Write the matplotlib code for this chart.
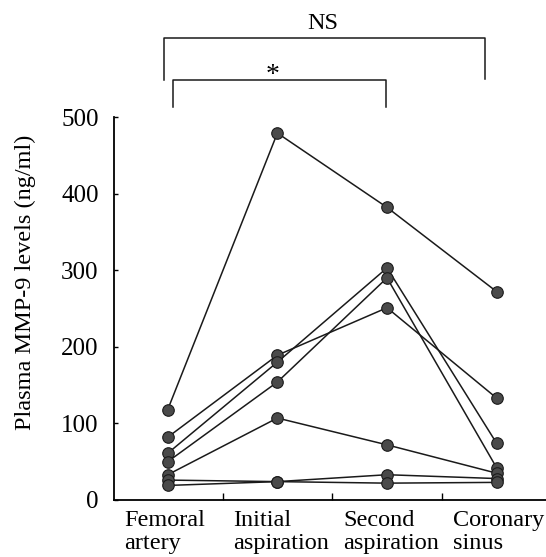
import matplotlib
matplotlib.use("Agg")
import matplotlib.pyplot as plt
import matplotlib.transforms as mtransforms

plt.rcParams['font.family'] = ['Liberation Serif', 'DejaVu Serif']

categories = ["Femoral\nartery", "Initial\naspiration", "Second\naspiration", "Coronary\nsinus"]
patient_1 = [118, 479, 382, 272]
patient_2 = [82, 189, 251, 133]
patient_3 = [61, 180, 303, 74]
patient_4 = [50, 154, 290, 42]
patient_5 = [33, 107, 72, 35]
patient_6 = [26, 24, 33, 28]
patient_7 = [19, 24, 22, 23]
patients = [patient_1, patient_2, patient_3, patient_4, patient_5, patient_6, patient_7]
y_ticks = [0, 100, 200, 300, 400, 500]

W, H = 546, 557
fig = plt.figure(figsize=(W / 100, H / 100), dpi=100)
ax = fig.add_axes([114 / W, 57 / H, (W - 114) / W, 383 / H])

x = list(range(len(categories)))
for vals in patients:
    ax.plot(x, vals, '-', color='#1a1a1a', lw=1.1, zorder=2)
    ax.plot(x, vals, 'o', ms=8.3, mfc='#4a4a4a', mec='#1a1a1a', mew=0.8, zorder=3)

ax.set_xlim(-0.49, 3.45)
ax.set_ylim(0, 500)
for s in ['top', 'right']:
    ax.spines[s].set_visible(False)
for s in ['left', 'bottom']:
    ax.spines[s].set_linewidth(1.3)

ax.set_yticks(y_ticks)
ax.set_yticklabels([str(v) for v in y_ticks], fontsize=18)
ax.tick_params(axis='y', direction='in', length=3, width=1, pad=11)
ax.set_xticks([0.5, 1.5, 2.5])
ax.set_xticklabels([])
ax.tick_params(axis='x', direction='in', length=5, width=1)

trans = mtransforms.blended_transform_factory(ax.transData, ax.transAxes)
offset = mtransforms.ScaledTranslation(0, -7 / 72, fig.dpi_scale_trans)
for i, lab in enumerate(categories):
    ax.text(i - 0.40, 0, lab, transform=trans + offset, ha='left', va='top',
            fontsize=17.5, linespacing=1.12)

fig.text(25 / W, 1 - 282 / H, "Plasma MMP-9 levels (ng/ml)", rotation=90,
         ha='center', va='center', fontsize=17.5)

# significance brackets
ax.plot([-0.03, -0.03, 2.89, 2.89], [548, 603, 603, 550], color='#1a1a1a', lw=1.1, clip_on=False)
ax.plot([0.05, 0.05, 1.99, 1.99], [513, 548, 548, 513], color='#1a1a1a', lw=1.1, clip_on=False)
ax.text(1.41, 622, "NS", ha='center', va='center', fontsize=17.5, clip_on=False)
ax.text(0.96, 554, "*", ha='center', va='center', fontsize=20, clip_on=False)

fig.savefig("out.png", dpi=100)
